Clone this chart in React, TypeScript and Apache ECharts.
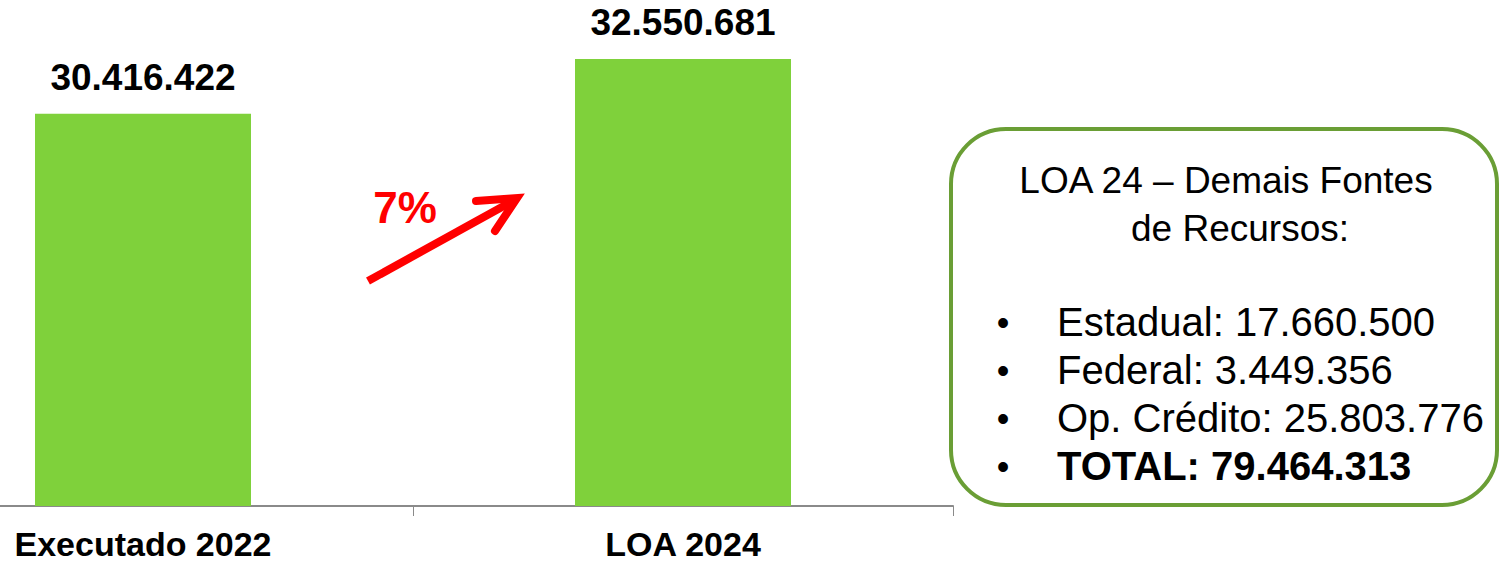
import React, { useEffect, useRef } from "react";
import * as echarts from "echarts";

const categories = ["Executado 2022", "LOA 2024"];
const values = [30416422, 32550681];
const growthLabel = "7%";
const boxTitle = ["LOA 24 – Demais Fontes", "de Recursos:"];
const boxItems = [
  { text: "Estadual: 17.660.500", bold: false },
  { text: "Federal: 3.449.356", bold: false },
  { text: "Op. Crédito: 25.803.776", bold: false },
  { text: "TOTAL: 79.464.313", bold: true },
];

const FONT = '"Liberation Sans", Arial, Helvetica, sans-serif';
const fmt = (v: number) => String(v).replace(/\B(?=(\d{3})+(?!\d))/g, ".");
const OFF = 127; // chart canvas starts 127px left of the page

export default function App() {
  const ref = useRef<HTMLDivElement>(null);
  useEffect(() => {
    if (!ref.current) return;
    const chart = echarts.init(ref.current, null, { renderer: "svg" });
    const bulletYs = [322, 370, 418, 466];
    const graphic: any[] = [
      {
        type: "rect",
        shape: { x: 951 + OFF, y: 129, width: 546, height: 376, r: 55 },
        style: { fill: "#fff", stroke: "#6A9E35", lineWidth: 4 },
      },
      {
        type: "text",
        x: 1226 + OFF,
        y: 180,
        style: { text: boxTitle[0], textAlign: "center", textVerticalAlign: "middle", fill: "#000", font: `37px ${FONT}` },
      },
      {
        type: "text",
        x: 1240 + OFF,
        y: 228,
        style: { text: boxTitle[1], textAlign: "center", textVerticalAlign: "middle", fill: "#000", font: `37px ${FONT}` },
      },
      ...boxItems.flatMap((it, i) => [
        {
          type: "text",
          x: 1003 + OFF,
          y: bulletYs[i],
          style: { text: "•", textAlign: "center", textVerticalAlign: "middle", fill: "#000", font: `36px ${FONT}` },
        },
        {
          type: "text",
          x: 1057 + OFF,
          y: bulletYs[i],
          style: {
            text: it.text,
            textAlign: "left",
            textVerticalAlign: "middle",
            fill: "#000",
            font: `${it.bold ? "bold " : ""}40px ${FONT}`,
          },
        },
      ]),
      {
        type: "text",
        x: 405 + OFF,
        y: 207,
        style: { text: growthLabel, textAlign: "center", textVerticalAlign: "middle", fill: "#FF0000", font: `bold 44px ${FONT}` },
      },
      {
        type: "polyline",
        shape: { points: [[368 + OFF, 281], [511 + OFF, 202]] },
        style: { stroke: "#FF0000", lineWidth: 8, lineCap: "butt", fill: null },
      },
      {
        type: "polyline",
        shape: { points: [[476 + OFF, 201], [517 + OFF, 198], [495 + OFF, 231]] },
        style: { stroke: "#FF0000", lineWidth: 8, lineCap: "round", lineJoin: "miter", fill: null },
      },
    ];
    chart.setOption({
      animation: false,
      grid: { left: 0, right: 548, top: 20, bottom: 56, containLabel: false },
      xAxis: {
        type: "category",
        data: categories,
        axisLine: { show: true, lineStyle: { color: "#8A8A8A", width: 2 } },
        axisTick: { show: true, length: 10, lineStyle: { color: "#8A8A8A", width: 1 } },
        axisLabel: {
          color: "#000",
          fontWeight: "bold",
          fontSize: 34,
          lineHeight: 34,
          fontFamily: FONT,
          margin: 21,
        },
      },
      yAxis: {
        type: "value",
        min: 15200000,
        max: 34059230,
        show: false,
        splitLine: { show: false },
      },
      series: [
        {
          type: "bar",
          data: values,
          barWidth: "40%",
          itemStyle: { color: "#7FD13B" },
          label: {
            show: true,
            position: "top",
            distance: 18,
            color: "#000",
            fontWeight: "bold",
            fontSize: 37,
            fontFamily: FONT,
            formatter: (p: any) => fmt(p.value),
          },
        },
      ],
      graphic,
    });
    return () => chart.dispose();
  }, []);
  return (
    <div
      ref={ref}
      style={{ position: "fixed", left: -OFF, top: 0, width: 1501 + OFF, height: 562, background: "#fff" }}
    />
  );
}
